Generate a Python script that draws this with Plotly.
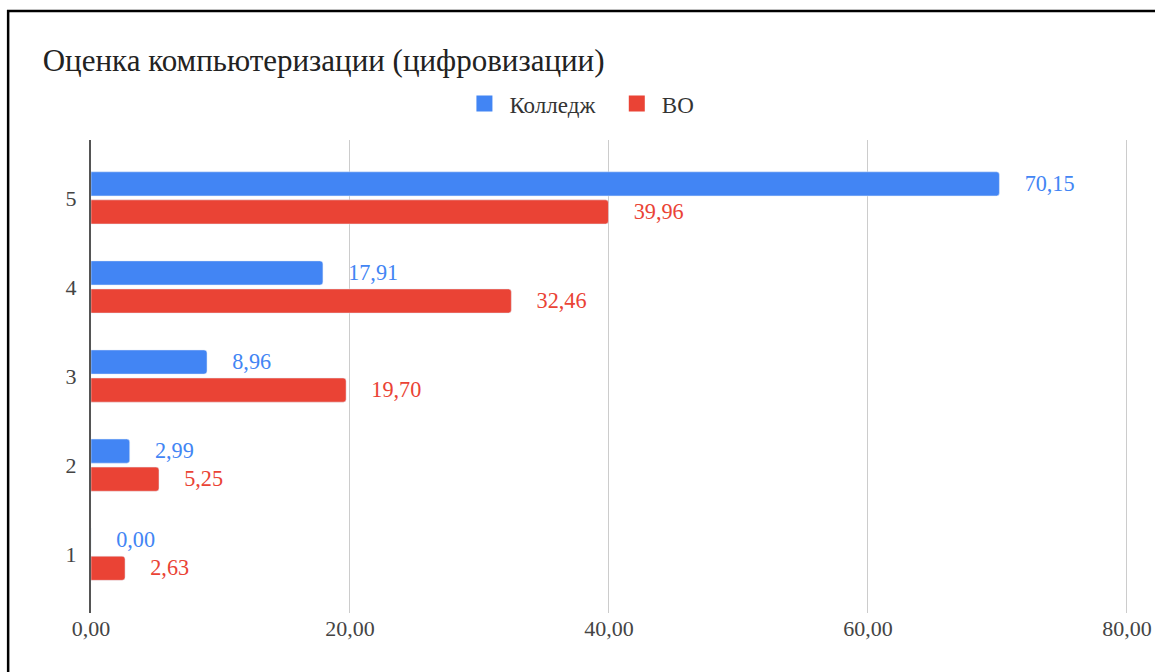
import plotly.graph_objects as go

categories = ["1", "2", "3", "4", "5"]
college = [0.00, 2.99, 8.96, 17.91, 70.15]
vo = [2.63, 5.25, 19.70, 32.46, 39.96]
x_ticks = [0, 20, 40, 60, 80]

BLUE = "#4285F4"
RED = "#EA4335"
FONT = "Liberation Serif, Times New Roman, serif"
PAD = "\u00a0" * 4

fig = go.Figure()
# horizontal grouped bars stack from the bottom, so the red one goes first
fig.add_trace(go.Bar(
    y=categories, x=vo, name="ВО", orientation="h",
    marker=dict(color=RED), showlegend=False,
    texttemplate=PAD + "%{x:.2f}", textposition="outside",
    textfont=dict(color=RED, size=23, family=FONT), cliponaxis=False,
))
fig.add_trace(go.Bar(
    y=categories, x=college, name="Колледж", orientation="h",
    marker=dict(color=BLUE), showlegend=False,
    texttemplate=PAD + "%{x:.2f}", textposition="outside",
    textfont=dict(color=BLUE, size=23, family=FONT), cliponaxis=False,
))

# legend-only entries, to get bigger square swatches than the bar defaults
for name, color, rank in [("Колледж" + "\u00a0" * 2, BLUE, 1), ("ВО", RED, 2)]:
    fig.add_trace(go.Scatter(
        x=[None], y=[None], mode="markers", name=name, legendrank=rank,
        marker=dict(symbol="square", size=16, color=color),
    ))

fig.update_layout(
    width=1155, height=672,
    paper_bgcolor="white", plot_bgcolor="white",
    font=dict(family=FONT, color="#444", size=22),
    separators=", ",
    barmode="group", bargap=0.37, bargroupgap=0.14, barcornerradius=3,
    margin=dict(l=91, r=27, t=140, b=59),
    title=dict(text="Оценка компьютеризации (цифровизации)", x=0.037, xanchor="left",
               y=0.911, yanchor="middle", font=dict(size=31, color="#222", family=FONT)),
    legend=dict(orientation="h", x=0.471, xanchor="center", y=1.077, yanchor="middle",
                itemsizing="trace", itemwidth=40,
                font=dict(size=23, color="#333", family=FONT)),
    showlegend=True,
)
# a hair past 80 so the last grid line still gets drawn
fig.update_xaxes(range=[0, 80.08], tickvals=x_ticks, tickformat=".2f", showgrid=True,
                 gridcolor="#cccccc", gridwidth=1, zeroline=False, showline=False,
                 ticks="", automargin=False, tickfont=dict(size=22, color="#444"))
fig.update_yaxes(range=[-0.66, 4.65], showgrid=False, zeroline=False, showline=True,
                 linecolor="#555", linewidth=2, ticks="", ticklabelstandoff=8,
                 automargin=False, tickfont=dict(size=22, color="#444"))

# black frame around the picture, right and bottom edges fall outside the image
fig.add_shape(type="rect", xref="paper", yref="paper",
              x0=-0.0799, x1=1.5, y0=-0.5, y1=1.2727,
              line=dict(color="black", width=2.5), layer="above")

fig.write_html("out.html", config={"displayModeBar": False, "responsive": False},
               post_script="document.body.style.margin='0px';")
